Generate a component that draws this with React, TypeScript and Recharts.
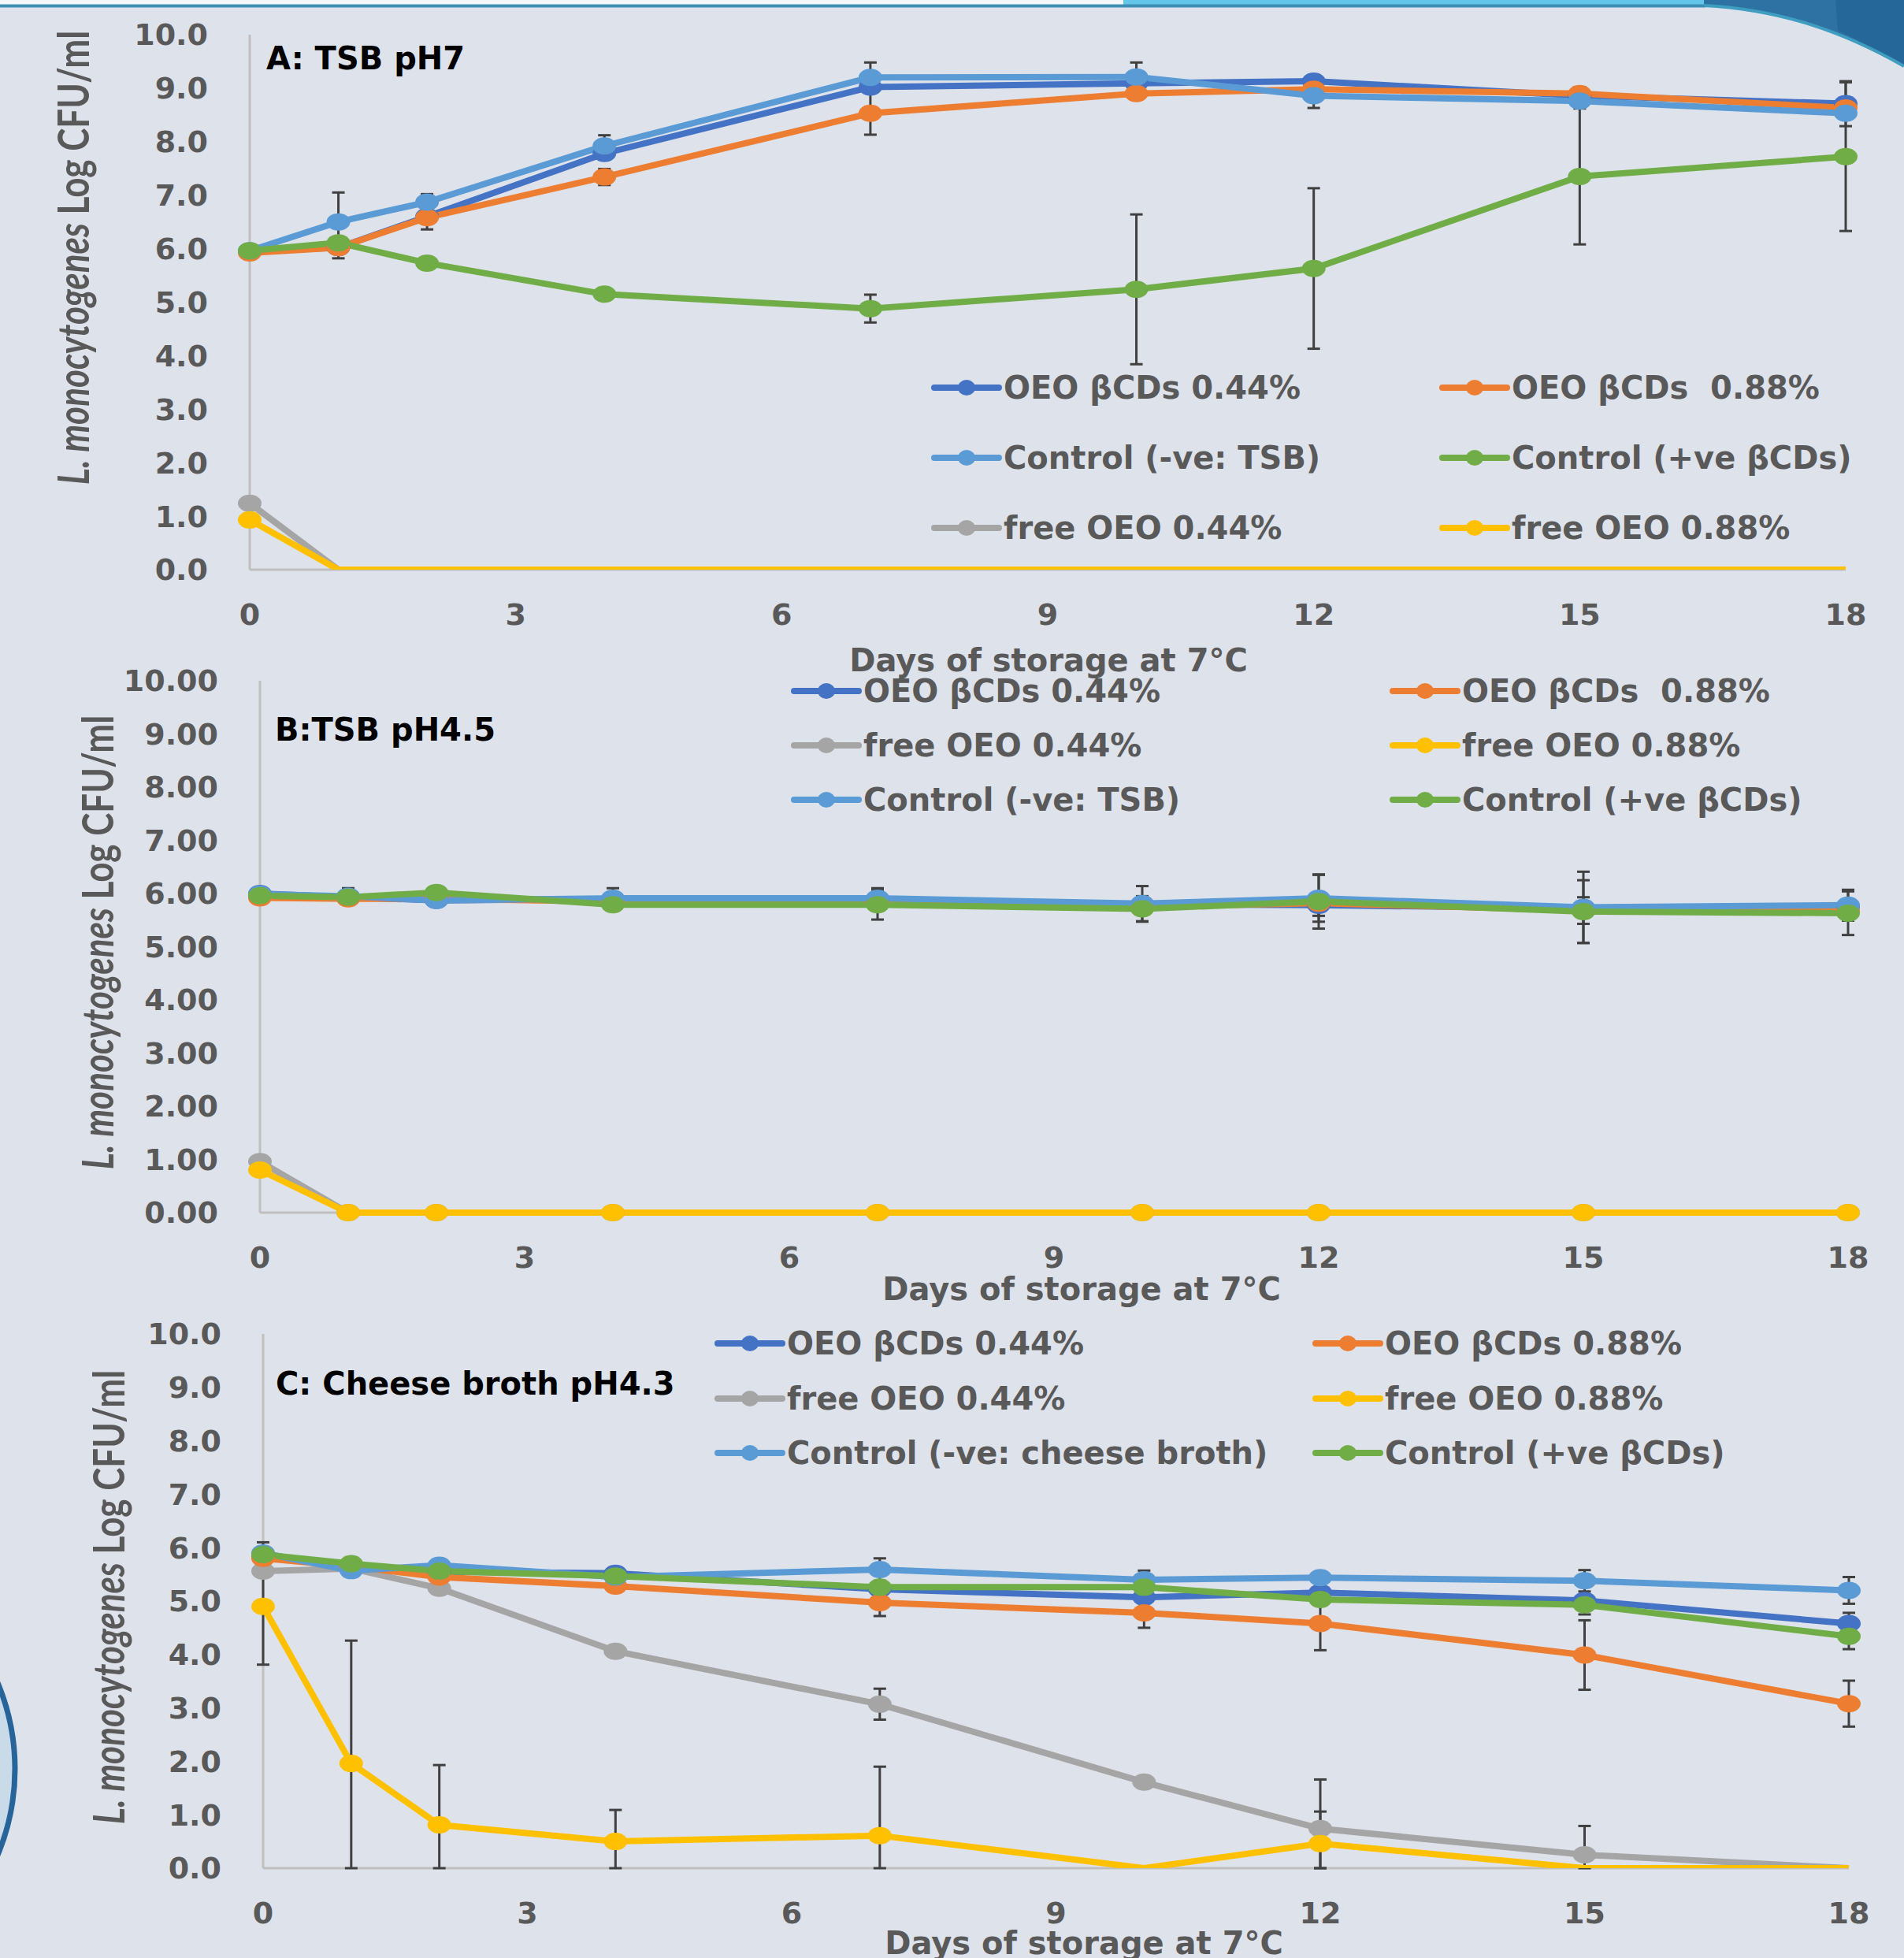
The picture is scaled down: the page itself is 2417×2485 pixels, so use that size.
import React from 'react';
import { LineChart, Line, XAxis, YAxis, ErrorBar, Legend } from 'recharts';

// ---------- shared axes ----------
const days = [0, 1, 2, 4, 7, 10, 12, 15, 18];
const dayTicks = [0, 3, 6, 9, 12, 15, 18];
const logTicks = [0, 1, 2, 3, 4, 5, 6, 7, 8, 9, 10];

type Err = number | [number, number] | null;

// ---------- A: TSB pH7 ----------
const aBcd44 = [5.95, 6.02, 6.6, 7.78, 9.02, 9.09, 9.13, 8.86, 8.71];
const aBcd88 = [5.92, 6.02, 6.58, 7.34, 8.53, 8.9, 8.98, 8.9, 8.63];
const aFree44 = [1.24, 0, 0, 0, 0, 0, 0, 0, 0];
const aFree88 = [0.93, 0, 0, 0, 0, 0, 0, 0, 0];
const aNeg = [5.96, 6.5, 6.87, 7.92, 9.2, 9.21, 8.86, 8.76, 8.53];
const aPos = [5.96, 6.11, 5.73, 5.15, 4.88, 5.24, 5.63, 7.35, 7.72];

const aBcd44Err: Err[] = [null, null, null, null, null, null, 0.1, null, 0.42];
const aBcd88Err: Err[] = [null, 0.2, 0.22, 0.15, 0.4, null, null, 0.12, null];
const aFree44Err: Err[] = [null, null, null, null, null, null, null, null, null];
const aFree88Err: Err[] = [null, null, null, null, null, null, null, null, null];
const aNegErr: Err[] = [null, 0.55, 0.15, 0.2, 0.28, 0.27, 0.23, null, null];
const aPosErr: Err[] = [null, null, 0.08, null, 0.26, 1.4, 1.5, 1.27, 1.39];

// ---------- B: TSB pH4.5 ----------
const bBcd44 = [6.0, 5.93, 5.87, 5.9, 5.9, 5.8, 5.78, 5.72, 5.75];
const bBcd88 = [5.92, 5.9, 5.9, 5.85, 5.82, 5.75, 5.82, 5.68, 5.68];
const bFree44 = [0.96, 0, 0, 0, 0, 0, 0, 0, 0];
const bFree88 = [0.8, 0, 0, 0, 0, 0, 0, 0, 0];
const bNeg = [5.99, 5.95, 5.87, 5.91, 5.91, 5.81, 5.91, 5.74, 5.78];
const bPos = [5.96, 5.93, 6.02, 5.79, 5.79, 5.71, 5.85, 5.66, 5.63];

const bBcd44Err: Err[] = [null, null, null, null, null, null, 0.2, null, null];
const bBcd88Err: Err[] = [null, null, null, null, null, null, null, 0.25, null];
const bFree44Err: Err[] = [null, null, null, null, null, null, null, null, null];
const bFree88Err: Err[] = [null, null, null, null, null, null, null, null, null];
const bNegErr: Err[] = [null, 0.15, null, 0.19, 0.19, 0.33, 0.44, 0.67, 0.29];
const bPosErr: Err[] = [null, null, null, null, 0.28, 0.24, 0.51, 0.59, 0.41];

// ---------- C: Cheese broth pH4.3 ----------
const cBcd44 = [5.85, 5.65, 5.55, 5.52, 5.22, 5.07, 5.16, 5.01, 4.58];
const cBcd88 = [5.8, 5.65, 5.45, 5.28, 4.97, 4.78, 4.58, 3.99, 3.08];
const cFree44 = [5.56, 5.61, 5.24, 4.06, 3.07, 1.61, 0.74, 0.25, 0];
const cFree88 = [4.9, 1.96, 0.81, 0.5, 0.61, 0, 0.46, 0, 0];
const cNeg = [5.9, 5.57, 5.67, 5.45, 5.59, 5.4, 5.44, 5.38, 5.2];
const cPos = [5.87, 5.7, 5.56, 5.47, 5.26, 5.26, 5.03, 4.93, 4.34];

// [below, above] where the lower whisker stops at the axis
const cBcd44Err: Err[] = [null, 0.12, null, null, null, null, null, 0.1, 0.2];
const cBcd88Err: Err[] = [null, null, null, null, 0.25, 0.28, 0.5, 0.65, 0.43];
const cFree44Err: Err[] = [null, null, null, null, 0.29, 0.08, [0.74, 0.92], [0.25, 0.54], null];
const cFree88Err: Err[] = [[1.09, 1.2], [1.96, 2.3], [0.81, 1.12], [0.5, 0.59], [0.61, 1.29], null, [0.46, 0.6], null, null];
const cNegErr: Err[] = [null, null, null, null, 0.21, 0.17, null, 0.2, 0.25];
const cPosErr: Err[] = [null, null, null, null, null, null, null, 0.18, 0.24];

// ---------- series styling ----------
const COLORS = {
  b44: '#4472C4',
  b88: '#ED7D31',
  f44: '#A5A5A5',
  f88: '#FFC000',
  neg: '#5B9BD5',
  pos: '#70AD47',
};

// drawing order (later = on top)
const DRAW_ORDER = ['f44', 'f88', 'b44', 'b88', 'neg', 'pos'] as const;
type Key = typeof DRAW_ORDER[number];

const FONT = "'DejaVu Sans', 'Liberation Sans', sans-serif";
const TEXT_GREY = '#595959';
const PAGE_W = 2417;
const PAGE_H = 2485;
const Y_AXIS_W = 100;
const X_AXIS_H = 60;

function buildRows(vals: Record<Key, number[]>, errs: Record<Key, Err[]>) {
  return days.map((day, i) => {
    const row: Record<string, any> = { day };
    DRAW_ORDER.forEach((k) => {
      row[k] = vals[k][i];
      const e = errs[k][i];
      if (e !== null) row[`${k}Err`] = e;
    });
    return row;
  });
}

const makeDot = (color: string, hideZero: boolean) => (props: any) => {
  const { cx, cy, value, index } = props;
  const key = `dot-${index}`;
  if (cx == null || cy == null || (hideZero && value === 0)) return <g key={key} />;
  return <ellipse key={key} cx={cx} cy={cy} rx={15} ry={11} fill={color} />;
};

interface PanelCfg {
  id: string;
  top: number;
  height: number;
  plot: { left: number; right: number; top: number; bottom: number };
  rows: Record<string, any>[];
  names: Record<Key, string>;
  legendRows: Key[][];
  legend: { left: number; row1: number; rowGap: number; colGap: number };
  title: { text: string; x: number; y: number };
  xTitle: { x: number; y: number };
  yTitle: { x: number; y: number };
  hideZeroDots: boolean;
  clipToPlot: boolean;
  decimals: number;
}

const makeLegend = (cfg: PanelCfg) => (props: any) => {
  const payload: any[] = props.payload || [];
  const find = (k: Key) =>
    payload.find((p) => p.dataKey === k) || payload.find((p) => p.value === cfg.names[k]);
  return (
    <div style={{ position: 'relative', width: '100%', height: '100%' }}>
      {cfg.legendRows.map((row, ri) =>
        row.map((k, ci) => {
          const p = find(k);
          const color = (p && p.color) || COLORS[k];
          const label = (p && p.value) || cfg.names[k];
          return (
            <div
              key={k}
              style={{
                position: 'absolute',
                left: ci * cfg.legend.colGap,
                top: ri * cfg.legend.rowGap,
                height: 50,
                display: 'flex',
                alignItems: 'center',
                whiteSpace: 'pre',
                fontFamily: FONT,
                fontWeight: 'bold',
                fontSize: 40,
                color: TEXT_GREY,
              }}
            >
              <svg width={92} height={24} style={{ display: 'block' }}>
                <line x1={4} x2={86} y1={12} y2={12} stroke={color} strokeWidth={8} strokeLinecap="round" />
                <ellipse cx={45} cy={12} rx={11} ry={10} fill={color} />
              </svg>
              <span>{label}</span>
            </div>
          );
        })
      )}
    </div>
  );
};

const tickStyle = { fontFamily: FONT, fontWeight: 'bold', fontSize: 38, fill: TEXT_GREY };

function Panel({ cfg }: { cfg: PanelCfg }) {
  const { top, height, plot } = cfg;
  const margin = {
    top: plot.top - top,
    left: plot.left - Y_AXIS_W,
    right: PAGE_W - plot.right,
    bottom: height - (plot.bottom - top) - X_AXIS_H,
  };
  const yt = { x: cfg.yTitle.x, y: cfg.yTitle.y - top };
  // axes sit underneath the series so the zero-level lines cover the baseline
  const axisLayer: any = { zIndex: 300 };
  return (
    <div style={{ position: 'absolute', left: 0, top }}>
      <LineChart width={PAGE_W} height={height} data={cfg.rows} margin={margin}>
        <XAxis
          {...axisLayer}
          dataKey="day"
          type="number"
          domain={[0, 18]}
          ticks={dayTicks}
          interval={0}
          height={X_AXIS_H}
          tickLine={false}
          tickSize={0}
          tickMargin={43}
          axisLine={{ stroke: '#BFBFBF', strokeWidth: 3 }}
          tick={tickStyle}
        />
        <YAxis
          {...axisLayer}
          type="number"
          domain={[0, 10]}
          ticks={logTicks}
          interval={0}
          allowDataOverflow={cfg.clipToPlot}
          width={Y_AXIS_W}
          tickLine={false}
          tickSize={0}
          tickMargin={53}
          axisLine={{ stroke: '#BFBFBF', strokeWidth: 3 }}
          tick={tickStyle}
          tickFormatter={(v: number) => v.toFixed(cfg.decimals)}
        />
        {DRAW_ORDER.map((k) => (
          <Line
            key={k}
            type="linear"
            dataKey={k}
            name={cfg.names[k]}
            stroke={COLORS[k]}
            strokeWidth={8}
            dot={makeDot(COLORS[k], cfg.hideZeroDots)}
            activeDot={false}
            isAnimationActive={false}
          >
            <ErrorBar
              dataKey={`${k}Err`}
              direction="y"
              width={8}
              stroke="#404040"
              strokeWidth={3}
              isAnimationActive={false}
            />
          </Line>
        ))}
        <Legend
          layout="horizontal"
          verticalAlign="middle"
          align="center"
          wrapperStyle={{
            left: cfg.legend.left,
            top: cfg.legend.row1 - top - 25,
            width: 1300,
            height: cfg.legend.rowGap * 2 + 50,
          }}
          content={makeLegend(cfg)}
        />
        <text
          x={cfg.title.x}
          y={cfg.title.y - top}
          fontFamily={FONT}
          fontWeight="bold"
          fontSize={40}
          fill="#000000"
        >
          {cfg.title.text}
        </text>
        <text
          x={cfg.xTitle.x}
          y={cfg.xTitle.y - top}
          textAnchor="middle"
          fontFamily={FONT}
          fontWeight="bold"
          fontSize={40}
          fill={TEXT_GREY}
        >
          Days of storage at 7°C
        </text>
        <text
          transform={`translate(${yt.x},${yt.y}) scale(1.25,1) rotate(-90)`}
          textAnchor="middle"
          dominantBaseline="central"
          fontFamily="Lato, 'Open Sans', sans-serif"
          fontWeight="bold"
          fontSize={44}
          fill={TEXT_GREY}
        >
          <tspan fontStyle="italic">L. monocytogenes</tspan>
          <tspan>{'  Log CFU/ml'}</tspan>
        </text>
      </LineChart>
    </div>
  );
}

const namesTSB: Record<Key, string> = {
  b44: 'OEO βCDs 0.44%',
  b88: 'OEO βCDs  0.88%',
  f44: 'free OEO 0.44%',
  f88: 'free OEO 0.88%',
  neg: 'Control (-ve: TSB)',
  pos: 'Control (+ve βCDs)',
};

const namesCheese: Record<Key, string> = {
  b44: 'OEO βCDs 0.44%',
  b88: 'OEO βCDs 0.88%',
  f44: 'free OEO 0.44%',
  f88: 'free OEO 0.88%',
  neg: 'Control (-ve: cheese broth)',
  pos: 'Control (+ve βCDs)',
};

const panels: PanelCfg[] = [
  {
    id: 'A',
    top: 0,
    height: 900,
    plot: { left: 317, right: 2343, top: 44, bottom: 723 },
    rows: buildRows(
      { b44: aBcd44, b88: aBcd88, f44: aFree44, f88: aFree88, neg: aNeg, pos: aPos },
      { b44: aBcd44Err, b88: aBcd88Err, f44: aFree44Err, f88: aFree88Err, neg: aNegErr, pos: aPosErr }
    ),
    names: namesTSB,
    legendRows: [
      ['b44', 'b88'],
      ['neg', 'pos'],
      ['f44', 'f88'],
    ],
    legend: { left: 1182, row1: 492, rowGap: 89, colGap: 645 },
    title: { text: 'A: TSB pH7', x: 338, y: 88 },
    xTitle: { x: 1331, y: 852 },
    yTitle: { x: 92, y: 327 },
    hideZeroDots: true,
    clipToPlot: true,
    decimals: 1,
  },
  {
    id: 'B',
    top: 800,
    height: 880,
    plot: { left: 330, right: 2346, top: 864, bottom: 1539 },
    rows: buildRows(
      { b44: bBcd44, b88: bBcd88, f44: bFree44, f88: bFree88, neg: bNeg, pos: bPos },
      { b44: bBcd44Err, b88: bBcd88Err, f44: bFree44Err, f88: bFree88Err, neg: bNegErr, pos: bPosErr }
    ),
    names: namesTSB,
    legendRows: [
      ['b44', 'b88'],
      ['f44', 'f88'],
      ['neg', 'pos'],
    ],
    legend: { left: 1004, row1: 877, rowGap: 69, colGap: 760 },
    title: { text: 'B:TSB pH4.5', x: 349, y: 940 },
    xTitle: { x: 1373, y: 1650 },
    yTitle: { x: 123, y: 1196 },
    hideZeroDots: false,
    clipToPlot: false,
    decimals: 2,
  },
  {
    id: 'C',
    top: 1640,
    height: 845,
    plot: { left: 334, right: 2347, top: 1693, bottom: 2371 },
    rows: buildRows(
      { b44: cBcd44, b88: cBcd88, f44: cFree44, f88: cFree88, neg: cNeg, pos: cPos },
      { b44: cBcd44Err, b88: cBcd88Err, f44: cFree44Err, f88: cFree88Err, neg: cNegErr, pos: cPosErr }
    ),
    names: namesCheese,
    legendRows: [
      ['b44', 'b88'],
      ['f44', 'f88'],
      ['neg', 'pos'],
    ],
    legend: { left: 907, row1: 1705, rowGap: 69.5, colGap: 759 },
    title: { text: 'C: Cheese broth pH4.3', x: 350, y: 1770 },
    xTitle: { x: 1376, y: 2480 },
    yTitle: { x: 137, y: 2027 },
    hideZeroDots: true,
    clipToPlot: true,
    decimals: 1,
  },
];

// slide frame: top rule, corner swoosh and the ring on the left edge
function Backdrop() {
  return (
    <svg width={PAGE_W} height={PAGE_H} style={{ position: 'absolute', left: 0, top: 0 }}>
      <rect x={0} y={0} width={PAGE_W} height={PAGE_H} fill="#DEE2EB" />
      <rect x={0} y={0} width={1426} height={7} fill="#F3F7FA" />
      <rect x={1426} y={0} width={740} height={7} fill="#62C6EA" />
      <line x1={0} y1={7.5} x2={2165} y2={7.5} stroke="#3D8EB3" strokeWidth={4} />
      <path d="M2163 0 H2417 V84 C2340 40 2260 12 2163 6 Z" fill="#2D72A3" />
      <path d="M2330 0 H2417 V84 C2390 68 2362 52 2333 39 Z" fill="#26679A" />
      <path d="M2163 7 C2260 12 2340 40 2417 84" stroke="#3F9DC0" strokeWidth={4} fill="none" />
      <circle cx={-264} cy={2245} r={283} fill="#C9DAE9" stroke="#26649A" strokeWidth={7} />
    </svg>
  );
}

export default function App() {
  return (
    <div
      style={{
        position: 'absolute',
        left: 0,
        top: 0,
        width: PAGE_W,
        height: PAGE_H,
        overflow: 'hidden',
        background: '#DEE2EB',
      }}
    >
      <Backdrop />
      {panels.map((p) => (
        <Panel key={p.id} cfg={p} />
      ))}
    </div>
  );
}
